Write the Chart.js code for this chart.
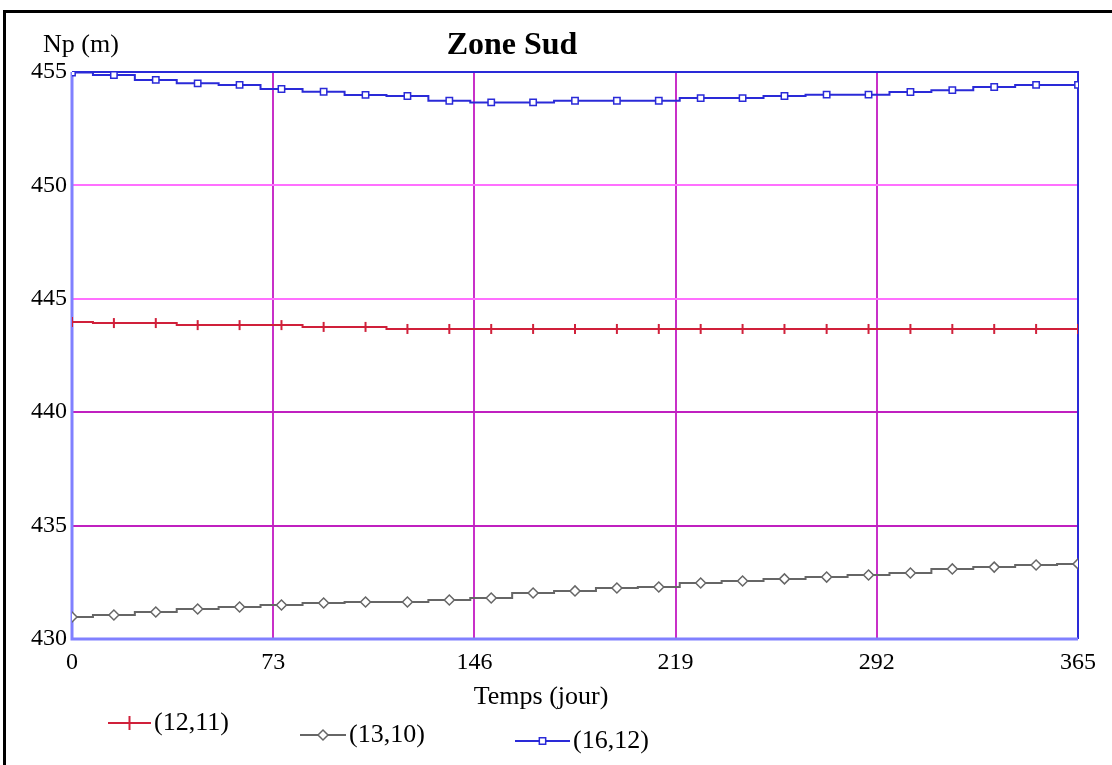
<!DOCTYPE html>
<html>
<head>
<meta charset="utf-8">
<script src="https://cdn.jsdelivr.net/npm/chart.js@4/dist/chart.umd.min.js"></script>
<style>
  html, body { margin: 0; padding: 0; background: #fff; overflow: hidden; }
  #wrap { position: relative; width: 1112px; height: 765px; }
  #frame { position: absolute; left: 3px; top: 10px; width: 1200px; height: 900px;
           border-left: 3px solid #000; border-top: 3px solid #000; pointer-events: none; }
  canvas { position: absolute; left: 0; top: 0; }
</style>
</head>
<body>
<div id="wrap">
  <canvas id="c" width="1112" height="765"></canvas>
  <div id="frame"></div>
</div>
<script>
// ---- Data ----
const chartTitle = "Zone Sud";
const yTitle = "Np (m)";
const xTitle = "Temps (jour)";
const days = [0, 15.2, 30.4, 45.6, 60.8, 76, 91.3, 106.5, 121.7, 136.9, 152.1, 167.3, 182.5,
              197.7, 212.9, 228.1, 243.3, 258.5, 273.8, 289, 304.2, 319.4, 334.6, 349.8, 365];
const seriesNames = ["(12,11)", "(13,10)", "(16,12)"];
const s12_11 = [443.98, 443.93, 443.93, 443.84, 443.84, 443.84, 443.76, 443.76, 443.67, 443.67, 443.67, 443.67, 443.67,
                443.67, 443.67, 443.67, 443.67, 443.67, 443.67, 443.67, 443.67, 443.67, 443.67, 443.67, 443.67];
const s13_10 = [430.97, 431.06, 431.19, 431.32, 431.41, 431.50, 431.59, 431.63, 431.63, 431.72, 431.81, 432.03, 432.12,
                432.25, 432.29, 432.47, 432.56, 432.65, 432.73, 432.82, 432.91, 433.09, 433.17, 433.26, 433.31];
const s16_12 = [454.98, 454.87, 454.65, 454.50, 454.43, 454.25, 454.13, 453.99, 453.94, 453.73, 453.66, 453.66, 453.73,
                453.73, 453.73, 453.85, 453.85, 453.94, 454.00, 454.00, 454.12, 454.20, 454.34, 454.43, 454.43];
const xTicks = [0, 73, 146, 219, 292, 365];
const yTicks = [430, 435, 440, 445, 450, 455];

const FONT = "'Liberation Serif', 'Times New Roman', serif";

function pts(vals) { return days.map((d, i) => ({ x: d, y: vals[i] })); }

const styles = [
  { color: '#d0203a', point: 'line', rot: 90, radius: 5, fill: '#d0203a' },
  { color: '#666666', point: 'rectRot', rot: 0, radius: 5, fill: '#ffffff' },
  { color: '#2a2ad8', point: 'rect', rot: 0, radius: 4.5, fill: '#ffffff' }
];
const allSeries = [s12_11, s13_10, s16_12];

const datasets = allSeries.map((s, i) => ({
  label: seriesNames[i],
  data: pts(s),
  borderColor: styles[i].color,
  backgroundColor: styles[i].fill,
  borderWidth: 2,
  stepped: 'middle',
  pointStyle: styles[i].point,
  rotation: styles[i].rot,
  pointRadius: styles[i].radius,
  pointBorderWidth: i === 0 ? 2 : 1.5,
  pointBorderColor: styles[i].color,
  pointBackgroundColor: styles[i].fill,
  pointHoverRadius: styles[i].radius
}));

const framePlugin = {
  id: 'frame',
  beforeDatasetsDraw(chart) {
    const { ctx, chartArea: a } = chart;
    ctx.save();
    ctx.lineWidth = 2;
    ctx.strokeStyle = '#2a2ad8';
    ctx.beginPath();
    ctx.moveTo(a.left, a.top); ctx.lineTo(a.right, a.top); ctx.lineTo(a.right, a.bottom);
    ctx.stroke();
    ctx.lineWidth = 3;
    ctx.strokeStyle = '#8080ff';
    ctx.beginPath();
    ctx.moveTo(a.left, a.top); ctx.lineTo(a.left, a.bottom); ctx.lineTo(a.right, a.bottom);
    ctx.stroke();
    ctx.restore();
  }
};

const textPlugin = {
  id: 'texts',
  afterDraw(chart) {
    const { ctx } = chart;
    ctx.save();
    ctx.fillStyle = '#000';
    ctx.textBaseline = 'middle';
    ctx.font = 'bold 32px ' + FONT;
    ctx.textAlign = 'center';
    ctx.fillText(chartTitle, 512, 46);
    ctx.font = '26px ' + FONT;
    ctx.textAlign = 'left';
    ctx.fillText(yTitle, 43, 45);
    ctx.textAlign = 'center';
    ctx.fillText(xTitle, 541, 697);
    // legend
    const leg = [
      { x0: 108, x1: 151, y: 723 },
      { x0: 300, x1: 346, y: 735 },
      { x0: 515, x1: 570, y: 741 }
    ];
    leg.forEach((l, i) => {
      const st = styles[i];
      ctx.strokeStyle = st.color;
      ctx.lineWidth = 2;
      ctx.beginPath(); ctx.moveTo(l.x0, l.y); ctx.lineTo(l.x1, l.y); ctx.stroke();
      ctx.fillStyle = st.fill;
      ctx.strokeStyle = st.color;
      ctx.lineWidth = i === 0 ? 2 : 1.5;
      Chart.helpers.drawPoint(ctx, {
        pointStyle: st.point, rotation: st.rot, radius: i === 0 ? 7 : st.radius,
        borderWidth: i === 0 ? 2 : 1.5
      }, (l.x0 + l.x1) / 2, l.y);
      ctx.fillStyle = '#000';
      ctx.textAlign = 'left';
      ctx.font = '26px ' + FONT;
      ctx.fillText(seriesNames[i], l.x1 + 3, l.y);
    });
    ctx.restore();
  }
};

const yGridColor = (v) => (v === 450 || v === 445) ? '#ff70ff' : (v === 440 || v === 435) ? '#c020c0' : 'rgba(0,0,0,0)';
const xGridColor = (v) => (v > 0 && v < 365) ? '#c830c8' : 'rgba(0,0,0,0)';

new Chart(document.getElementById('c'), {
  type: 'line',
  data: { datasets },
  options: {
    responsive: false,
    devicePixelRatio: 1,
    animation: false,
    layout: { padding: { top: 72, right: 34, left: 0, bottom: 0 } },
    plugins: { legend: { display: false }, title: { display: false }, tooltip: { enabled: false } },
    scales: {
      x: {
        type: 'linear', min: 0, max: 365,
        afterBuildTicks: (s) => { s.ticks = xTicks.map(v => ({ value: v })); },
        afterFit: (s) => { s.height = 126; },
        ticks: { font: { family: FONT, size: 24 }, color: '#000', padding: 9, maxRotation: 0 },
        grid: { color: (c) => xGridColor(c.tick.value), lineWidth: 2, drawTicks: false },
        border: { display: false }
      },
      y: {
        type: 'linear', min: 430, max: 455,
        afterBuildTicks: (s) => { s.ticks = yTicks.map(v => ({ value: v })); },
        afterFit: (s) => { s.width = 72; },
        ticks: { font: { family: FONT, size: 24 }, color: '#000', padding: 5 },
        grid: { color: (c) => yGridColor(c.tick.value), lineWidth: 2, drawTicks: false },
        border: { display: false }
      }
    }
  },
  plugins: [framePlugin, textPlugin]
});
</script>
</body>
</html>
